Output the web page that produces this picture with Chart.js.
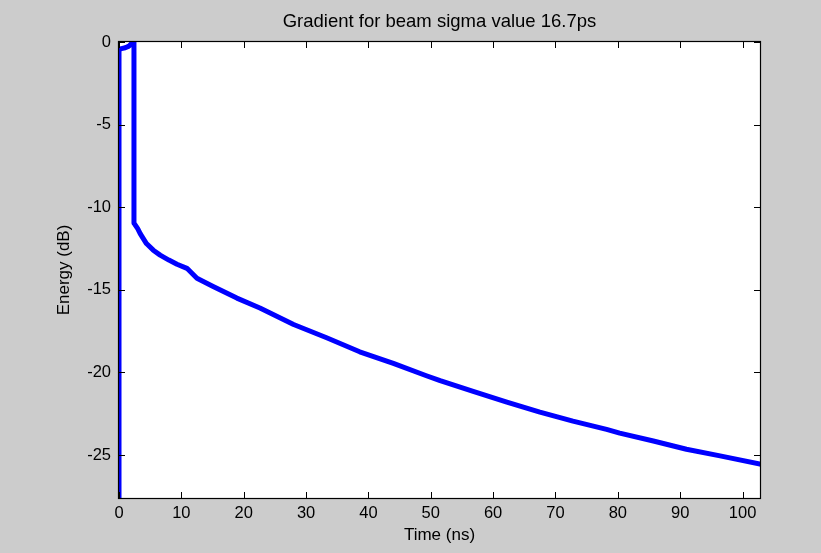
<!DOCTYPE html>
<html>
<head>
<meta charset="utf-8">
<script src="https://cdn.jsdelivr.net/npm/chart.js@4/dist/chart.umd.min.js"></script>
<style>
  html, body { margin: 0; padding: 0; background: #cccccc; }
  canvas { display: block; }
</style>
</head>
<body>
<canvas id="c" width="821" height="553"></canvas>
<script>
// ---- data ----
const chartTitle = "Gradient for beam sigma value 16.7ps";
const xLabel = "Time (ns)";
const yLabel = "Energy (dB)";
const timeNs = [0, 0, 0.4, 1.0, 1.6, 2.1, 2.4, 2.4, 3.0, 3.4, 4.4, 5.5, 6.6, 8.0, 9.3, 10.9, 12.5, 15.1, 18.9, 22.6, 28.0, 33.3, 38.6, 44.0, 49.3, 51.5, 56.8, 62.2, 67.5, 72.8, 78.2, 80.3, 85.7, 91.0, 96.4, 102.8];
const energyDb = [-28, -0.45, -0.4, -0.35, -0.25, -0.05, 0.3, -10.96, -11.3, -11.6, -12.2, -12.6, -12.9, -13.2, -13.45, -13.7, -14.3, -14.8, -15.5, -16.1, -17.1, -17.9, -18.75, -19.45, -20.2, -20.5, -21.15, -21.8, -22.4, -22.95, -23.45, -23.67, -24.15, -24.65, -25.05, -25.55];
const xTicks = [0, 10, 20, 30, 40, 50, 60, 70, 80, 90, 100];
const yTicks = [0, -5, -10, -15, -20, -25];
const xMin = 0, xMax = 102.8;
const yMin = -27.6, yMax = 0;

const FONT = "'Liberation Sans', Arial, sans-serif";

const framePlugin = {
  id: 'matlabFrame',
  beforeDraw(chart) {
    const {ctx, chartArea: a} = chart;
    ctx.save();
    ctx.fillStyle = '#cccccc';
    ctx.fillRect(0, 0, chart.width, chart.height);
    ctx.fillStyle = '#ffffff';
    ctx.fillRect(a.left, a.top, a.right - a.left, a.bottom - a.top);
    ctx.restore();
  },
  afterDraw(chart) {
    const {ctx, chartArea: a, scales} = chart;
    ctx.save();
    ctx.strokeStyle = '#000000';
    ctx.lineWidth = 1;
    const tl = 6;
    ctx.beginPath();
    xTicks.forEach(v => {
      const px = Math.round(scales.x.getPixelForValue(v)) + 0.5;
      ctx.moveTo(px, a.bottom); ctx.lineTo(px, a.bottom - tl);
      ctx.moveTo(px, a.top); ctx.lineTo(px, a.top + tl);
    });
    yTicks.forEach(v => {
      const py = Math.round(scales.y.getPixelForValue(v)) + 0.5;
      ctx.moveTo(a.left, py); ctx.lineTo(a.left + tl, py);
      ctx.moveTo(a.right, py); ctx.lineTo(a.right - tl, py);
    });
    ctx.stroke();
    ctx.lineWidth = 1.2;
    ctx.strokeRect(Math.round(a.left) - 0.5, Math.round(a.top) - 0.5, Math.round(a.right - a.left) + 1, Math.round(a.bottom - a.top) + 1);
    // title
    ctx.fillStyle = '#000000';
    ctx.font = "18.5px " + FONT;
    ctx.textAlign = 'center';
    ctx.textBaseline = 'middle';
    ctx.fillText(chartTitle, (a.left + a.right) / 2, 22);
    ctx.restore();
  }
};

new Chart(document.getElementById('c'), {
  type: 'line',
  data: {
    datasets: [{
      data: timeNs.map((t, i) => ({x: t, y: energyDb[i]})),
      borderColor: '#0000ff',
      borderWidth: 5,
      pointRadius: 0,
      tension: 0,
      fill: false,
      clip: 0,
      borderJoinStyle: 'round',
      borderCapStyle: 'round'
    }]
  },
  options: {
    responsive: false,
    animation: false,
    events: [],
    layout: { padding: { top: 42, right: 61, left: 0, bottom: 0 } },
    plugins: { legend: { display: false }, tooltip: { enabled: false }, title: { display: false } },
    scales: {
      x: {
        type: 'linear',
        min: xMin, max: xMax,
        afterBuildTicks: s => { s.ticks = xTicks.map(v => ({value: v})); },
        afterFit: s => { s.height = 55; },
        grid: { display: false, drawTicks: false },
        border: { display: false },
        ticks: { autoSkip: false, maxRotation: 0, padding: 6, color: '#000', font: { family: FONT, size: 16.5 }, callback: v => String(v) },
        title: { display: true, text: xLabel, color: '#000', font: { family: FONT, size: 17 }, padding: { top: 0, bottom: 7 } }
      },
      y: {
        type: 'linear',
        min: yMin, max: yMax,
        afterBuildTicks: s => { s.ticks = yTicks.map(v => ({value: v})); },
        afterFit: s => { s.width = 119; },
        grid: { display: false, drawTicks: false },
        border: { display: false },
        ticks: { autoSkip: false, padding: 8, color: '#000', font: { family: FONT, size: 16.5 }, callback: v => String(v) },
        title: { display: true, text: yLabel, color: '#000', font: { family: FONT, size: 17 }, padding: { top: 54, bottom: 0 } }
      }
    }
  },
  plugins: [framePlugin]
});
</script>
</body>
</html>
